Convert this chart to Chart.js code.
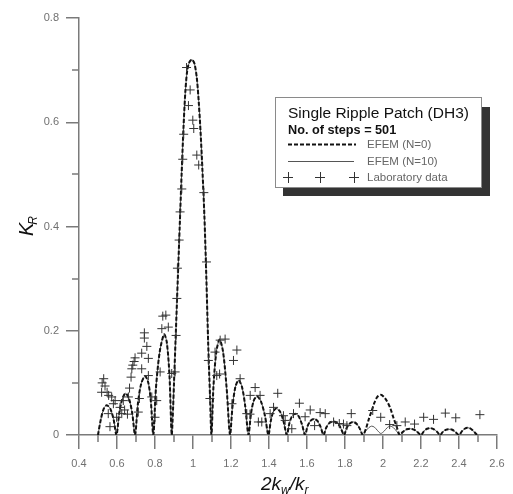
<!DOCTYPE html>
<html>
<head>
<meta charset="utf-8">
<script src="https://cdn.jsdelivr.net/npm/chart.js@4.4.1/dist/chart.umd.min.js"></script>
<style>
  html, body { margin: 0; padding: 0; background: #fff; }
</style>
</head>
<body>
<canvas id="myChart" width="513" height="494"></canvas>
<script>
// axis ticks
const xTickValues = [0.4, 0.6, 0.8, 1.0, 1.2, 1.4, 1.6, 1.8, 2.0, 2.2, 2.4, 2.6];
const xTickLabels = ['0.4', '0.6', '0.8', '1', '1.2', '1.4', '1.6', '1.8', '2', '2.2', '2.4', '2.6'];
const xMinorTicks = [0.5, 0.7, 0.9, 1.1, 1.3, 1.5, 1.7, 1.9, 2.1, 2.3, 2.5];
const yTickValues = [0, 0.2, 0.4, 0.6, 0.8];
const yTickLabels = ['0', '0.2', '0.4', '0.6', '0.8'];
const yMinorTicks = [0.1, 0.3, 0.5, 0.7];

// EFEM curves, shared abscissa 2kw/kr
const curveX = [
    0.500, 0.515, 0.530, 0.546, 0.565, 0.582, 0.597,
    0.612, 0.627, 0.645, 0.663, 0.680, 0.695,
    0.710, 0.727, 0.748, 0.765, 0.778, 0.791,
    0.805, 0.825, 0.848, 0.862, 0.876, 0.888,
    0.895, 0.900, 0.910, 0.920, 0.930, 0.940, 0.950, 0.960, 0.970, 0.982, 0.995,
    1.008, 1.020, 1.030, 1.040, 1.050, 1.060, 1.070, 1.080, 1.090, 1.097,
    1.108, 1.123, 1.140, 1.158, 1.177, 1.195,
    1.208, 1.223, 1.240, 1.258, 1.275, 1.292,
    1.305, 1.320, 1.338, 1.358, 1.378, 1.397,
    1.410, 1.423, 1.438, 1.458, 1.476, 1.494,
    1.507, 1.521, 1.538, 1.556, 1.573, 1.590,
    1.603, 1.618, 1.638, 1.655, 1.671, 1.687,
    1.701, 1.718, 1.740, 1.760, 1.778, 1.795,
    1.808, 1.825, 1.845, 1.862, 1.878, 1.894,
    1.910, 1.925, 1.940, 1.955, 1.970, 1.988, 2.005, 2.022, 2.038, 2.055, 2.072, 2.088,
    2.105, 2.125, 2.145, 2.165, 2.183, 2.200,
    2.215, 2.232, 2.250, 2.268, 2.285, 2.300,
    2.315, 2.330, 2.345, 2.365, 2.383, 2.400,
    2.415, 2.430, 2.445, 2.462, 2.480, 2.495
];
const efemN0 = [
    0.000, 0.030, 0.050, 0.057, 0.050, 0.030, 0.000,
    0.042, 0.068, 0.080, 0.070, 0.042, 0.000,
    0.060, 0.098, 0.113, 0.100, 0.065, 0.000,
    0.090, 0.160, 0.193, 0.178, 0.115, 0.000,
    0.050, 0.100, 0.200, 0.300, 0.400, 0.500, 0.590, 0.660, 0.700, 0.716, 0.720,
    0.712, 0.685, 0.640, 0.580, 0.505, 0.420, 0.305, 0.175, 0.070, 0.000,
    0.095, 0.160, 0.183, 0.160, 0.090, 0.000,
    0.055, 0.092, 0.105, 0.092, 0.055, 0.000,
    0.040, 0.066, 0.074, 0.064, 0.038, 0.000,
    0.028, 0.045, 0.051, 0.045, 0.027, 0.000,
    0.022, 0.036, 0.041, 0.036, 0.021, 0.000,
    0.017, 0.027, 0.031, 0.027, 0.016, 0.000,
    0.014, 0.023, 0.026, 0.023, 0.013, 0.000,
    0.013, 0.022, 0.025, 0.021, 0.012, 0.000,
    0.012, 0.030, 0.046, 0.062, 0.073, 0.077, 0.073, 0.064, 0.052, 0.033, 0.016, 0.000,
    0.006, 0.011, 0.012, 0.010, 0.005, 0.000,
    0.007, 0.012, 0.013, 0.011, 0.006, 0.000,
    0.006, 0.010, 0.011, 0.010, 0.005, 0.000,
    0.007, 0.012, 0.014, 0.012, 0.006, 0.000
];
const efemN10 = [
    0.000, 0.030, 0.050, 0.057, 0.050, 0.030, 0.000,
    0.042, 0.068, 0.080, 0.070, 0.042, 0.000,
    0.060, 0.098, 0.113, 0.100, 0.065, 0.000,
    0.090, 0.160, 0.193, 0.178, 0.115, 0.000,
    0.050, 0.100, 0.200, 0.300, 0.400, 0.500, 0.590, 0.660, 0.700, 0.716, 0.720,
    0.712, 0.685, 0.640, 0.580, 0.505, 0.420, 0.305, 0.175, 0.070, 0.000,
    0.095, 0.160, 0.183, 0.160, 0.090, 0.000,
    0.055, 0.092, 0.105, 0.092, 0.055, 0.000,
    0.040, 0.066, 0.074, 0.064, 0.038, 0.000,
    0.028, 0.045, 0.051, 0.045, 0.027, 0.000,
    0.022, 0.036, 0.041, 0.036, 0.021, 0.000,
    0.017, 0.027, 0.031, 0.027, 0.016, 0.000,
    0.014, 0.023, 0.026, 0.023, 0.013, 0.000,
    0.013, 0.022, 0.025, 0.021, 0.012, 0.000,
    0.008, 0.014, 0.017, 0.015, 0.009, 0.003, 0.007, 0.014, 0.017, 0.014, 0.007, 0.000,
    0.006, 0.011, 0.012, 0.010, 0.005, 0.000,
    0.007, 0.012, 0.013, 0.011, 0.006, 0.000,
    0.006, 0.010, 0.011, 0.010, 0.005, 0.000,
    0.007, 0.012, 0.014, 0.012, 0.006, 0.000
];

// laboratory measurements
const labX = [
    0.519, 0.522, 0.530, 0.537, 0.548, 0.554, 0.556, 0.563, 0.572, 0.581, 0.590, 0.598,
    0.616, 0.625, 0.633, 0.640, 0.655, 0.660, 0.666, 0.674, 0.678, 0.683, 0.690, 0.695,
    0.712, 0.718, 0.730, 0.730, 0.744, 0.744, 0.757, 0.765, 0.765, 0.783, 0.800, 0.809,
    0.827, 0.836, 0.841, 0.857, 0.870, 0.888, 0.906, 0.911, 0.915, 0.918, 0.927, 0.932,
    0.941, 0.946, 0.951, 0.966, 0.976, 0.985, 0.999, 1.004, 1.020, 1.030, 1.057, 1.071,
    1.081, 1.089, 1.116, 1.125, 1.140, 1.143, 1.169, 1.205, 1.213, 1.231, 1.248, 1.283,
    1.300, 1.301, 1.327, 1.344, 1.353, 1.362, 1.406, 1.424, 1.446, 1.476, 1.485, 1.520,
    1.529, 1.560, 1.590, 1.617, 1.640, 1.669, 1.696, 1.740, 1.770, 1.792, 1.810, 1.833,
    1.946, 1.988, 2.035, 2.073, 2.117, 2.166, 2.214, 2.266, 2.328, 2.383, 2.510
];
const labY = [
    0.082, 0.100, 0.108, 0.094, 0.082, 0.041, 0.076, 0.016, 0.073, 0.060, 0.066, 0.034,
    0.053, 0.041, 0.066, 0.048, 0.040, 0.073, 0.090, 0.111, 0.127, 0.134, 0.141, 0.148,
    0.044, 0.070, 0.127, 0.157, 0.196, 0.186, 0.170, 0.147, 0.114, 0.073, 0.034, 0.066,
    0.121, 0.204, 0.228, 0.230, 0.207, 0.118, 0.121, 0.191, 0.262, 0.320, 0.374, 0.428,
    0.472, 0.529, 0.577, 0.705, 0.632, 0.662, 0.604, 0.588, 0.537, 0.518, 0.465, 0.332,
    0.143, 0.070, 0.159, 0.114, 0.117, 0.182, 0.184, 0.060, 0.143, 0.163, 0.108, 0.041,
    0.040, 0.076, 0.091, 0.025, 0.076, 0.025, 0.041, 0.053, 0.080, 0.037, 0.028, 0.012,
    0.041, 0.061, 0.035, 0.048, 0.018, 0.043, 0.041, 0.025, 0.022, 0.021, 0.018, 0.041,
    0.047, 0.034, 0.020, 0.018, 0.025, 0.021, 0.034, 0.030, 0.042, 0.033, 0.039
];

const legendTitle = 'Single Ripple Patch (DH3)';
const legendSteps = 'No. of steps = 501';

const FONT = '"Liberation Sans", Arial, Helvetica, sans-serif';
const AXIS_GREY = '#7a7a7a';

const toPoints = (xs, ys) => xs.map((x, i) => ({ x: x, y: ys[i] }));

// short ticks at the odd tenths
const minorTicks = {
    id: 'minorTicks',
    afterDraw(chart) {
        const ctx = chart.ctx;
        const area = chart.chartArea;
        const xs = chart.scales.x;
        const ys = chart.scales.y;
        ctx.save();
        ctx.strokeStyle = AXIS_GREY;
        ctx.lineWidth = 1.5;
        ctx.beginPath();
        for (const v of xMinorTicks) {
            const px = Math.round(xs.getPixelForValue(v));
            ctx.moveTo(px, area.bottom);
            ctx.lineTo(px, area.bottom + 7);
        }
        for (const v of yMinorTicks) {
            const py = Math.round(ys.getPixelForValue(v));
            ctx.moveTo(area.left - 7, py);
            ctx.lineTo(area.left, py);
        }
        ctx.stroke();
        ctx.restore();
    }
};

// axis titles with subscripts
const axisTitles = {
    id: 'axisTitles',
    afterDraw(chart) {
        const ctx = chart.ctx;
        ctx.save();
        ctx.fillStyle = '#111';
        ctx.textBaseline = 'alphabetic';

        // x: 2kw/kr
        let x = 261;
        const y = 490;
        const big = 'italic 19px ' + FONT;
        const small = 'italic 12px ' + FONT;
        const parts = [['2k', big, 0], ['w', small, 4], ['/k', big, 0], ['r', small, 4]];
        for (const [t, f, dy] of parts) {
            ctx.font = f;
            ctx.fillText(t, x, y + dy);
            x += ctx.measureText(t).width;
        }

        // y: KR, rotated
        ctx.translate(33, 236);
        ctx.rotate(-Math.PI / 2);
        ctx.font = 'italic 20px ' + FONT;
        ctx.fillText('K', 0, 0);
        const w = ctx.measureText('K').width;
        ctx.font = 'italic 12px ' + FONT;
        ctx.fillText('R', w - 2, 4);
        ctx.restore();
    }
};

// boxed legend with drop shadow
const legendBox = {
    id: 'legendBox',
    afterDraw(chart) {
        const ctx = chart.ctx;
        const ds = chart.data.datasets;
        ctx.save();
        ctx.fillStyle = '#333';
        ctx.fillRect(283, 107, 207, 89);
        ctx.fillStyle = '#fff';
        ctx.fillRect(275, 97, 207, 91);
        ctx.strokeStyle = '#8a8a8a';
        ctx.lineWidth = 1;
        ctx.strokeRect(275.5, 97.5, 206, 90);

        ctx.fillStyle = '#111';
        ctx.textBaseline = 'alphabetic';
        ctx.font = '15.5px ' + FONT;
        ctx.fillText(legendTitle, 288, 118);
        ctx.font = 'bold 12.7px ' + FONT;
        ctx.fillText(legendSteps, 288, 134);

        // line samples
        ctx.strokeStyle = ds[0].borderColor;
        ctx.lineWidth = ds[0].borderWidth;
        ctx.setLineDash(ds[0].borderDash);
        ctx.beginPath();
        ctx.moveTo(288, 144.5);
        ctx.lineTo(356, 144.5);
        ctx.stroke();

        ctx.setLineDash([]);
        ctx.strokeStyle = ds[1].borderColor;
        ctx.lineWidth = ds[1].borderWidth;
        ctx.beginPath();
        ctx.moveTo(288, 161.5);
        ctx.lineTo(354, 161.5);
        ctx.stroke();

        // marker samples
        ctx.strokeStyle = ds[2].borderColor;
        ctx.lineWidth = 1;
        ctx.beginPath();
        for (const cx of [288, 320, 354]) {
            ctx.moveTo(cx - 5, 177.5);
            ctx.lineTo(cx + 5, 177.5);
            ctx.moveTo(cx + 0.5, 172);
            ctx.lineTo(cx + 0.5, 183);
        }
        ctx.stroke();

        ctx.fillStyle = '#666';
        ctx.font = '11.5px ' + FONT;
        ctx.textBaseline = 'middle';
        ctx.fillText(ds[0].label, 367, 145);
        ctx.fillText(ds[1].label, 367, 162);
        ctx.fillText(ds[2].label, 367, 178);
        ctx.restore();
    }
};

const data = {
    datasets: [
        {
            label: 'EFEM (N=0)',
            data: toPoints(curveX, efemN0),
            showLine: true,
            borderColor: '#111',
            borderWidth: 2,
            borderDash: [4, 2],
            pointRadius: 0,
            tension: 0.3,
            order: 1
        },
        {
            label: 'EFEM (N=10)',
            data: toPoints(curveX, efemN10),
            showLine: true,
            borderColor: '#555',
            borderWidth: 1,
            pointRadius: 0,
            tension: 0.3,
            order: 2
        },
        {
            label: 'Laboratory data',
            data: toPoints(labX, labY),
            showLine: false,
            pointStyle: 'cross',
            pointRadius: 4.5,
            borderColor: '#333',
            borderWidth: 1,
            order: 0
        }
    ]
};

const tickFont = { family: FONT, size: 11 };

const config = {
    type: 'scatter',
    data: data,
    options: {
        responsive: false,
        animation: false,
        layout: { padding: { top: 18, right: 16, left: 0, bottom: 0 } },
        plugins: {
            legend: { display: false },
            tooltip: { enabled: false }
        },
        scales: {
            x: {
                type: 'linear',
                min: 0.4,
                max: 2.6,
                afterBuildTicks: scale => { scale.ticks = xTickValues.map(v => ({ value: v })); },
                afterFit: scale => { scale.height = 59; },
                ticks: {
                    callback: (value, index) => xTickLabels[index],
                    color: '#707070',
                    font: tickFont,
                    padding: 8,
                    maxRotation: 0,
                    autoSkip: false
                },
                grid: { drawOnChartArea: false, tickLength: 14, color: AXIS_GREY, lineWidth: 1.5 },
                border: { color: AXIS_GREY, width: 1.5 }
            },
            y: {
                type: 'linear',
                min: 0,
                max: 0.8,
                afterBuildTicks: scale => { scale.ticks = yTickValues.map(v => ({ value: v })); },
                afterFit: scale => { scale.width = 79; },
                ticks: {
                    callback: (value, index) => yTickLabels[index],
                    color: '#707070',
                    font: tickFont,
                    padding: 7
                },
                grid: { drawOnChartArea: false, tickLength: 13, color: AXIS_GREY, lineWidth: 1.5 },
                border: { color: AXIS_GREY, width: 1.5 }
            }
        }
    },
    plugins: [minorTicks, axisTitles, legendBox]
};

new Chart(document.getElementById('myChart'), config);
</script>
</body>
</html>
